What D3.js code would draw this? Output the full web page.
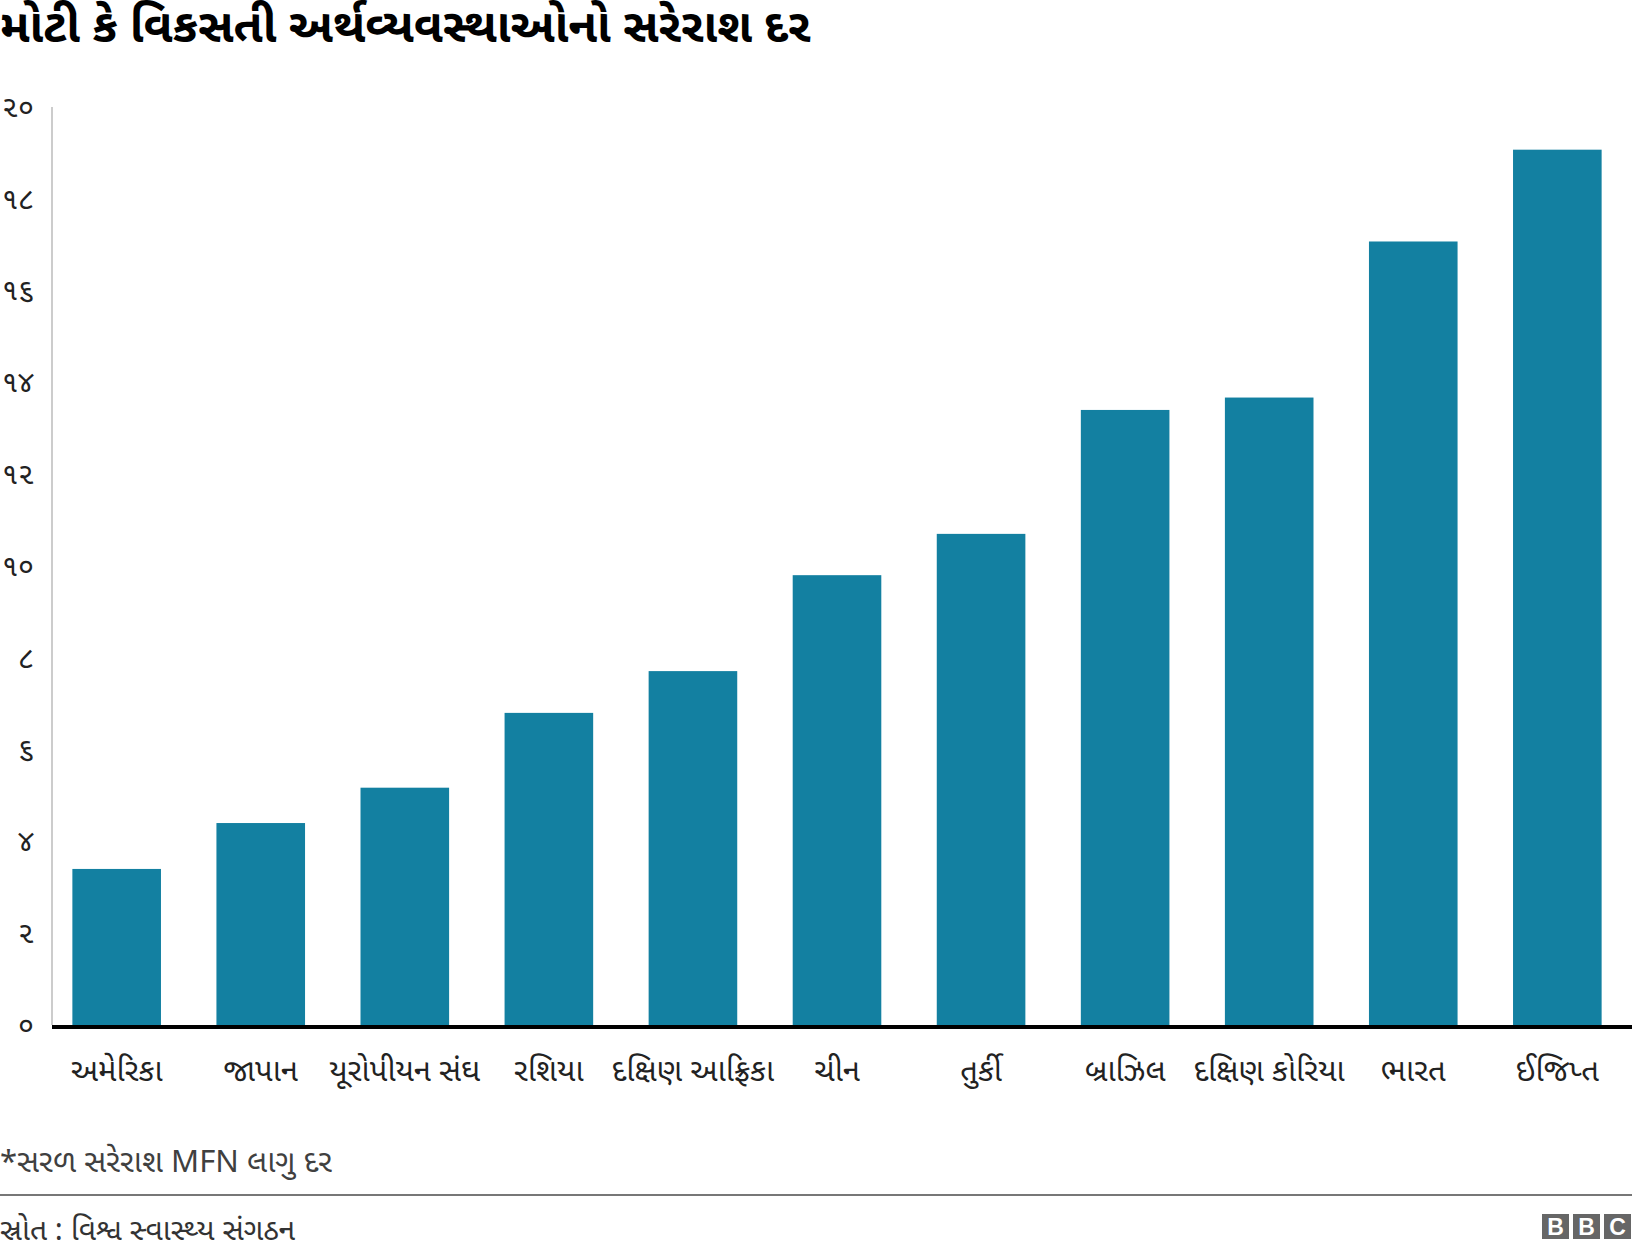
<!DOCTYPE html>
<html>
<head>
<meta charset="utf-8">
<script src="https://cdn.jsdelivr.net/npm/d3@7"></script>
<style>
  body { margin: 0; background: #fff; }
  svg text { font-family: "Noto Sans Gujarati", "Noto Sans", "Open Sans", sans-serif; }
</style>
</head>
<body>
<div id="chart"></div>
<script>
// Chart data
const countries = ["અમેરિકા", "જાપાન", "યૂરોપીયન સંઘ", "રશિયા", "દક્ષિણ આફ્રિકા", "ચીન",
  "તુર્કી", "બ્રાઝિલ", "દક્ષિણ કોરિયા", "ભારત", "ઈજિપ્ત"];
const rates = [3.4, 4.4, 5.17, 6.8, 7.71, 9.8, 10.7, 13.4, 13.67, 17.07, 19.07];
const yTicks = [0, 2, 4, 6, 8, 10, 12, 14, 16, 18, 20];
const gujDigits = "૦૧૨૩૪૫૬૭૮૯";

const W = 1632, H = 1258;
const toGuj = n => String(n).replace(/[0-9]/g, d => gujDigits[+d]);

const svg = d3.select("#chart")
    .append("svg")
    .attr("width", W)
    .attr("height", H);

// Title
svg.append("text")
    .attr("x", 0)
    .attr("y", 42)
    .style("font-size", "47px")
    .style("font-weight", "bold")
    .attr("fill", "#000")
    .text("મોટી કે વિકસતી અર્થવ્યવસ્થાઓનો સરેરાશ દર");

// Scales
const x = d3.scaleBand()
    .domain(countries)
    .range([45, 1629])
    .paddingInner(0.385)
    .paddingOuter(0.19);

const y = d3.scaleLinear()
    .domain([0, 20])
    .range([1025, 107]);

// y axis line
svg.append("line")
    .attr("x1", 52).attr("x2", 52)
    .attr("y1", y(20)).attr("y2", y(0))
    .attr("stroke", "#cccccc")
    .attr("stroke-width", 2);

// y tick labels
const yAxis = svg.append("g")
    .attr("transform", "translate(34,0)")
    .call(d3.axisLeft(y).tickValues(yTicks).tickSize(0).tickFormat(toGuj));
yAxis.select(".domain").remove();
yAxis.selectAll("text")
    .attr("x", 0)
    .attr("fill", "#222")
    .style("font-size", "29px")
    .style("font-family", "\"Noto Sans Gujarati\", \"Noto Sans\", sans-serif");

// Bars
svg.append("g")
    .selectAll("rect")
    .data(countries)
    .join("rect")
    .attr("x", d => x(d))
    .attr("width", x.bandwidth())
    .attr("y", (d, i) => y(rates[i]))
    .attr("height", (d, i) => y(0) - y(rates[i]))
    .attr("fill", "#1380A1");

// x axis
const xAxis = svg.append("g")
    .attr("transform", `translate(0,${y(0)})`)
    .call(d3.axisBottom(x).tickSize(0).tickPadding(34));
xAxis.select(".domain").remove();
xAxis.selectAll("text")
    .attr("fill", "#222")
    .style("font-size", "31px")
    .style("font-family", "\"Noto Sans Gujarati\", \"Noto Sans\", sans-serif");

svg.append("line")
    .attr("x1", 52).attr("x2", W)
    .attr("y1", y(0) + 2).attr("y2", y(0) + 2)
    .attr("stroke", "#000")
    .attr("stroke-width", 4);

// Note
svg.append("text")
    .attr("x", 0)
    .attr("y", 1172)
    .attr("fill", "#404040")
    .style("font-size", "31px")
    .text("*સરળ સરેરાશ MFN લાગુ દર");

svg.append("line")
    .attr("x1", 0).attr("x2", W)
    .attr("y1", 1195).attr("y2", 1195)
    .attr("stroke", "#777")
    .attr("stroke-width", 2);

// Source
svg.append("text")
    .attr("x", 0)
    .attr("y", 1240)
    .attr("fill", "#333")
    .style("font-size", "30px")
    .text("સ્રોત : વિશ્વ સ્વાસ્થ્ય સંગઠન");

// BBC logo
const logo = svg.append("g").attr("transform", "translate(1542,1214)");
["B", "B", "C"].forEach((ch, i) => {
  logo.append("rect")
      .attr("x", i * 31)
      .attr("width", 27)
      .attr("height", 25)
      .attr("fill", "#666");
  logo.append("text")
      .attr("x", i * 31 + 13.5)
      .attr("y", 21)
      .attr("text-anchor", "middle")
      .attr("fill", "#fff")
      .style("font-family", "Arial, \"Liberation Sans\", sans-serif")
      .style("font-weight", "bold")
      .style("font-size", "23px")
      .text(ch);
});
</script>
</body>
</html>
